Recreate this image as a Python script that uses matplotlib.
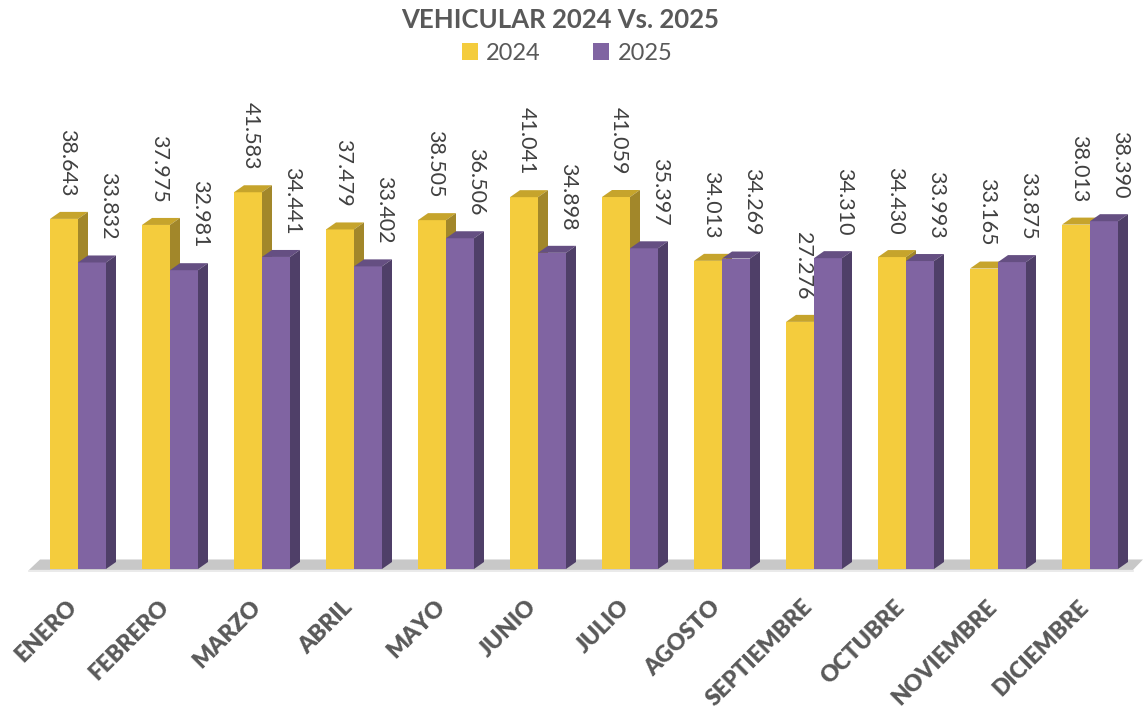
import numpy as np
import matplotlib
matplotlib.use("Agg")
import matplotlib.pyplot as plt
from matplotlib.patches import Polygon, Patch

plt.rcParams["font.family"] = ["Lato", "DejaVu Sans"]

meses = ["ENERO", "FEBRERO", "MARZO", "ABRIL", "MAYO", "JUNIO", "JULIO",
         "AGOSTO", "SEPTIEMBRE", "OCTUBRE", "NOVIEMBRE", "DICIEMBRE"]
v2024 = [38.643, 37.975, 41.583, 37.479, 38.505, 41.041, 41.059,
         34.013, 27.276, 34.430, 33.165, 38.013]
v2025 = [33.832, 32.981, 34.441, 33.402, 36.506, 34.898, 35.397,
         34.269, 34.310, 33.993, 33.875, 38.390]
etiquetas_2024 = ["38.643", "37.975", "41.583", "37.479", "38.505", "41.041",
                  "41.059", "34.013", "27.276", "34.430", "33.165", "38.013"]
etiquetas_2025 = ["33.832", "32.981", "34.441", "33.402", "36.506", "34.898",
                  "35.397", "34.269", "34.310", "33.993", "33.875", "38.390"]

# colores: frente, tapa, lateral
AMARILLO = ("#F4CC3D", "#C6A42C", "#A2872A")
MORADO = ("#8064A2", "#654F82", "#4F3F68")
GRIS = "#595959"

W = 11.48
H = 7.17
fig = plt.figure(figsize=(W, H), dpi=100)
ax = fig.add_axes([0, 0, 1, 1])
ax.set_xlim(-78 / 92, (1148 - 78) / 92)
ax.set_ylim(-148 / 9.06, (717 - 148) / 9.06)
ax.axis("off")

ancho = 28 / 92          # ancho de cada barra
dx = 10 / 92             # profundidad en x
dy = 7 / 9.06            # profundidad en y

x = np.arange(len(meses))

# piso gris
piso = Polygon([(-0.533, -0.1), (11.467, -0.1), (11.576, 1.05), (-0.413, 1.05)],
               closed=True, facecolor="#C8C8C8", edgecolor="none", zorder=1)
ax.add_patch(piso)
ax.plot([-0.533, 11.467], [-0.2, -0.2], color="#E6E6E6", lw=1.2, zorder=1)


def barra3d(x0, valor, colores, z):
    frente, tapa, lado = colores
    ax.bar(x0, valor, width=ancho, align="edge", color=frente,
           edgecolor="none", zorder=z)
    ax.add_patch(Polygon([(x0, valor), (x0 + ancho, valor),
                          (x0 + ancho + dx, valor + dy), (x0 + dx, valor + dy)],
                         closed=True, facecolor=tapa, edgecolor="none", zorder=z))
    ax.add_patch(Polygon([(x0 + ancho, 0), (x0 + ancho + dx, dy),
                          (x0 + ancho + dx, valor + dy), (x0 + ancho, valor)],
                         closed=True, facecolor=lado, edgecolor="none", zorder=z))


for i in x:
    barra3d(i - ancho, v2024[i], AMARILLO, 2 + 2 * i)
    barra3d(i, v2025[i], MORADO, 3 + 2 * i)

    ax.text(i - ancho / 2 + 3 / 92, v2024[i] + 2.5, etiquetas_2024[i],
            rotation=-90, ha="center", va="bottom", fontsize=15.5,
            color="#404040", zorder=40)
    ax.text(i + ancho / 2 + 16 / 92, v2025[i] + 2.5, etiquetas_2025[i],
            rotation=-90, ha="center", va="bottom", fontsize=15.5,
            color="#404040", zorder=40)

    ax.text(i + 3 / 92, -3.0, meses[i], rotation=45, ha="right", va="top",
            fontsize=16.5, fontweight="heavy", color=GRIS, zorder=40)

fig.text(560 / (W * 100), 1 - 20 / (H * 100), "VEHICULAR 2024 Vs. 2025",
         ha="center", va="center", fontsize=18.5, fontweight="bold", color=GRIS)

handles = [Patch(facecolor=AMARILLO[0]), Patch(facecolor=MORADO[0])]
fig.legend(handles, ["2024", "2025"], loc="center",
           bbox_to_anchor=(567 / (W * 100), 1 - 53 / (H * 100)),
           ncol=2, frameon=False, fontsize=17, handlelength=0.7,
           handleheight=0.7, handletextpad=0.35, columnspacing=2.2,
           labelcolor=GRIS)

fig.savefig("out.png", dpi=100)
